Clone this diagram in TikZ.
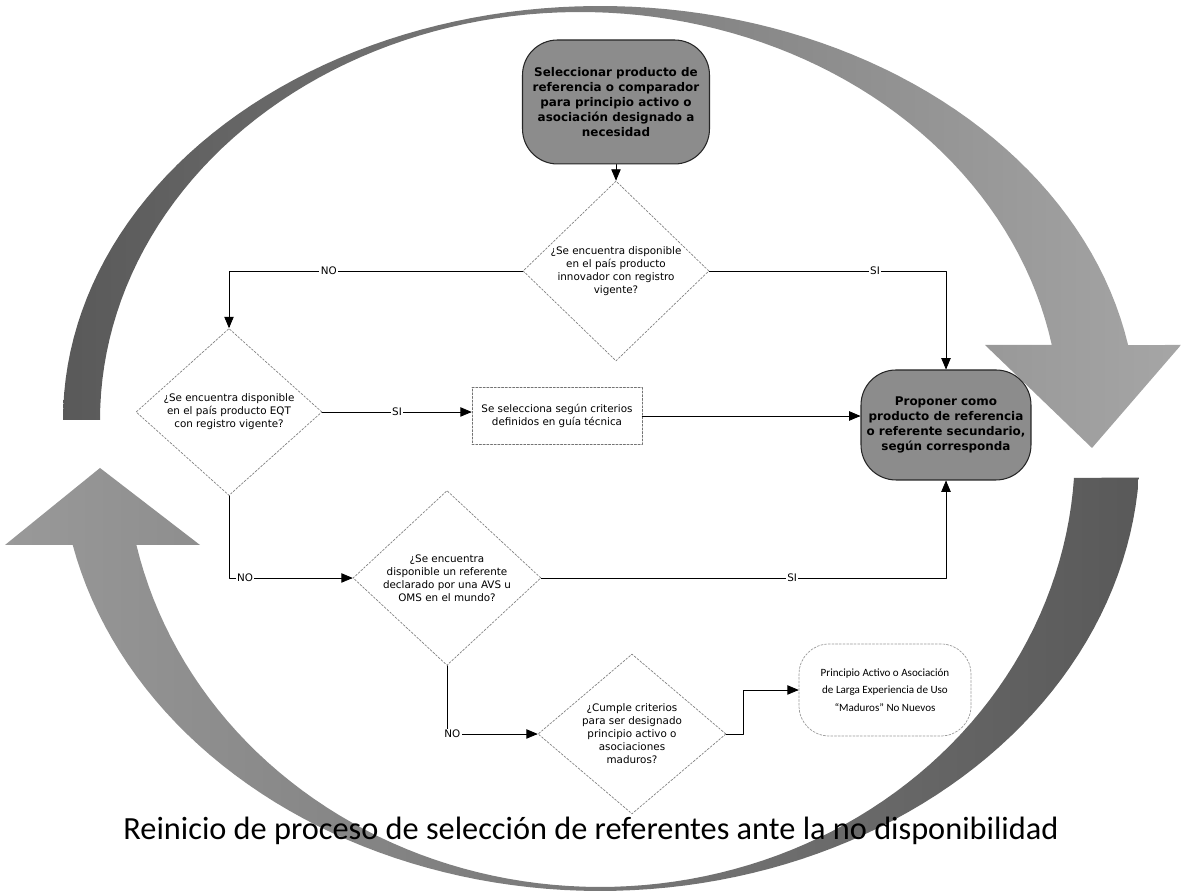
\documentclass[tikz,border=0pt]{standalone}
\usepackage{fontspec}
\setmainfont{DejaVu Sans}
\newfontfamily\calibri{Carlito}
\usepackage{tikz}
\usetikzlibrary{arrows}
\usetikzlibrary{shapes.geometric}

\begin{document}
\begin{tikzpicture}[line cap=round,line join=round,>=triangle 45,x=0.02cm,y=0.02cm,
  decision/.style={diamond,draw=black!50,dash pattern=on 1.2pt off 0.9pt,fill=white,
    inner sep=0pt,align=center,font=\fontsize{5.9}{7.4}\selectfont},
  terminal/.style={rectangle,rounded corners=0.7cm,draw=black!85,line width=0.6pt,
    fill=black!45,align=center,inner sep=2pt,font=\bfseries\fontsize{6.8}{8.5}\selectfont},
  action/.style={rectangle,draw=black!55,dash pattern=on 1.2pt off 0.9pt,fill=white,
    align=center,font=\fontsize{5.9}{7.4}\selectfont},
  mature/.style={rectangle,rounded corners=0.6cm,draw=black!40,dash pattern=on 1.2pt off 0.9pt,
    fill=white,align=center,font=\calibri\fontsize{6.3}{10}\selectfont},
  lbl/.style={fill=white,inner sep=0.8pt,font=\fontsize{5.9}{7}\selectfont},
  link/.style={->,line width=0.45pt}]
\useasboundingbox (0,0) rectangle (1181,891);
% big cycle arrows
\shade[left color=black!65,right color=black!35]
  plot[domain=180:10.43,samples=90] ({600+537*cos(\x)},{471+414*sin(\x)})
  -- (1181,546) -- (1092,443) -- (985,546)
  -- plot[domain=10.6:180,samples=90] ({580+480*cos(\x)},{471+408*sin(\x)}) -- cycle;
\shade[left color=black!40,right color=black!65]
  plot[domain=-3.6:-167.56,samples=90] ({600+540*cos(\x)},{441+441*sin(\x)})
  -- (5,346) -- (100,423) -- (200,346)
  -- plot[domain=-167.45:-3.65,samples=90] ({600+475*cos(\x)},{441+437*sin(\x)}) -- cycle;
%
\node[terminal,minimum width=3.74cm,minimum height=2.48cm] (sel) at (616,789)
  {Seleccionar producto de\\referencia o comparador\\para principio activo o\\asociación designado a\\necesidad};
\node[decision,minimum width=3.72cm,minimum height=2.8cm] (d1) at (616,620)
  {¿Se encuentra disponible\\en el país producto\\innovador con registro\\vigente?};
\node[decision,minimum width=3.72cm,minimum height=2.3cm] (d2) at (229,479)
  {¿Se encuentra disponible\\en el país producto EQT\\con registro vigente?};
\node[action,minimum width=3.4cm,minimum height=1.14cm] (guia) at (557,475)
  {Se selecciona según criterios\\definidos en guía técnica};
\node[terminal,minimum width=3.4cm,minimum height=2.2cm] (prop) at (946,466)
  {Proponer como\\producto de referencia\\o referente secundario,\\según corresponda};
\node[decision,minimum width=3.76cm,minimum height=2.76cm] (d3) at (447,313)
  {¿Se encuentra\\disponible un referente\\declarado por una AVS u\\OMS en el mundo?};
\node[decision,minimum width=3.76cm,minimum height=2.8cm] (d4) at (632,157)
  {¿Cumple criterios\\para ser designado\\principio activo o\\asociaciones\\maduros?};
\node[mature,minimum width=3.44cm,minimum height=1.84cm] (mad) at (885,201)
  {Principio Activo o Asociación\\de Larga Experiencia de Uso\\“Maduros” No Nuevos};
% connectors
\draw[link] (sel) -- (d1);
\draw[link] (d1.west) -- node[lbl,pos=0.66]{NO} (d1.west -| d2.north) -- (d2.north);
\draw[link] (d1.east) -- node[lbl,pos=0.7]{SI} (d1.east -| prop.north) -- (prop.north);
\draw[link] (d2.east) -- node[lbl]{SI} (d2.east -| guia.west);
\draw[link] (guia.east) -- (guia.east -| prop.west);
\draw[link] (d2.south) |- node[lbl,pos=0.565]{NO} (d3.west);
\draw[link] (d3.east) -| node[lbl,pos=0.31]{SI} (prop.south);
\draw[link] (d3.south) |- node[lbl,pos=0.53]{NO} (d4.west);
\draw[link] (d4.east) -- ++(17,0) |- (mad.west);
% caption
\node[anchor=base,inner sep=0pt,font=\calibri\fontsize{18.4}{20}\selectfont] (cap) at (591,51)
  {Reinicio de proceso de selección de referentes ante la no disponibilidad};
\end{tikzpicture}
\end{document}
